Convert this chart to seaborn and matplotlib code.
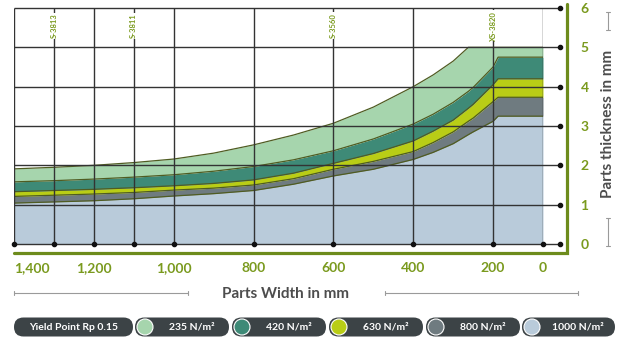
import numpy as np
import pandas as pd
import matplotlib
matplotlib.use("Agg")
import matplotlib.pyplot as plt
from matplotlib.patches import FancyBboxPatch, Circle
import seaborn as sns

# --- data ---
width_mm = [1400, 1300, 1200, 1100, 1000, 900, 800, 700, 600, 500, 400, 350, 300, 262, 250, 200, 180, 0]
t_235 = [1.91, 1.95, 2.00, 2.07, 2.16, 2.31, 2.52, 2.77, 3.07, 3.48, 4.00, 4.30, 4.65, 5.00, 5.00, 5.00, 5.00, 5.00]
t_420 = [1.58, 1.61, 1.65, 1.70, 1.76, 1.85, 1.97, 2.14, 2.37, 2.67, 3.05, 3.30, 3.60, 3.88, 3.98, 4.50, 4.75, 4.75]
t_630 = [1.33, 1.36, 1.39, 1.43, 1.48, 1.54, 1.63, 1.80, 2.05, 2.30, 2.62, 2.87, 3.15, 3.45, 3.55, 4.05, 4.20, 4.20]
t_800 = [1.21, 1.24, 1.27, 1.31, 1.37, 1.42, 1.50, 1.66, 1.90, 2.10, 2.35, 2.58, 2.85, 3.12, 3.20, 3.62, 3.73, 3.73]
t_1000 = [1.04, 1.07, 1.10, 1.15, 1.22, 1.28, 1.36, 1.52, 1.73, 1.90, 2.15, 2.33, 2.55, 2.78, 2.85, 3.12, 3.25, 3.25]

series_names = ["235 N/m²", "420 N/m²", "630 N/m²", "800 N/m²", "1000 N/m²"]
series_colors = ["#a6d5ad", "#3e8a77", "#b9cd16", "#6f7b80", "#b9cbda"]

x_ticks = [1400, 1200, 1000, 800, 600, 400, 200, 0]
x_tick_labels = ["1,400", "1,200", "1,000", "800", "600", "400", "200", "0"]
grid_x = [1400, 1300, 1200, 1100, 1000, 800, 600, 400, 200, 0]
y_ticks = [0, 1, 2, 3, 4, 5, 6]
machine_x = [1300, 1100, 600, 200]
machine_labels = ["S-3813", "S-3811", "S-3560", "XS-3820"]

OLIVE = "#7a9a1e"
EDGE = "#4f5c22"
GRID = "#333333"
LABEL_GREY = "#4d4d4d"
PILL = "#3c4346"

# the width axis is squeezed between 0 and 200 mm in the original
MM_KNOTS = [-400, 0, 200, 1400, 1800]
U_KNOTS = [-100, 0, 50, 530, 690]


def fwd(x):
    return np.interp(x, MM_KNOTS, U_KNOTS)


def inv(u):
    return np.interp(u, U_KNOTS, MM_KNOTS)


sns.set_style("white")
plt.rcParams["font.family"] = ["Lato", "DejaVu Sans"]

fig = plt.figure(figsize=(6.17, 3.44), dpi=100)
ax = fig.add_axes([14 / 617, 100 / 344, 529 / 617, 236 / 344])
ax.set_xscale("function", functions=(fwd, inv))

# stacked bands, bottom one first
curves = [t_1000, t_800, t_630, t_420, t_235]
colors = series_colors[::-1]
lower = [0] * len(width_mm)
for top, col in zip(curves, colors):
    ax.fill_between(width_mm, lower, top, color=col, lw=0, zorder=1)
    lower = top

df = pd.DataFrame({
    "width": width_mm * 5,
    "thickness": t_235 + t_420 + t_630 + t_800 + t_1000,
    "series": np.repeat(series_names, len(width_mm)),
})
sns.lineplot(data=df, x="width", y="thickness", hue="series",
             palette={n: EDGE for n in series_names}, estimator=None,
             lw=0.9, legend=False, ax=ax, zorder=2)

# grid with end dots
x_end = -68
ax.hlines(y_ticks, 1400, x_end, color=GRID, lw=1.0, clip_on=False, zorder=3)
ax.plot([x_end] * len(y_ticks), y_ticks, "o", color="#111111", ms=3, clip_on=False, zorder=4)
ax.vlines(grid_x, 0, 6, color=GRID, lw=1.0, zorder=3)
ax.plot(grid_x, [0] * len(grid_x), "o", color="#111111", ms=3, clip_on=False, zorder=4)

for mx, ml in zip(machine_x, machine_labels):
    ax.text(mx, 5.55, ml, rotation=90, fontsize=5.5, fontweight="bold", color=OLIVE,
            ha="center", va="center", zorder=5,
            bbox=dict(boxstyle="square,pad=0.1", fc="white", ec="none"))

ax.set_xlim(1400, 0)
ax.set_ylim(0, 6)
ax.set_xlabel("")
ax.set_ylabel("")
ax.set_xticks(x_ticks, x_tick_labels)
ax.set_yticks(y_ticks, [str(v) for v in y_ticks])
ax.yaxis.tick_right()
ax.tick_params(axis="x", length=0, pad=13, labelsize=10, labelcolor=OLIVE)
ax.tick_params(axis="y", length=0, pad=27, labelsize=10, labelcolor=OLIVE)
for lab in ax.get_xticklabels() + ax.get_yticklabels():
    lab.set_fontweight("bold")
ax.get_xticklabels()[0].set_horizontalalignment("left")
for s in ax.spines.values():
    s.set_visible(False)
ax.patch.set_visible(False)

# overlay in pixel units for frame, axis titles and legend
ov = fig.add_axes([0, 0, 1, 1])
ov.set_xlim(0, 617)
ov.set_ylim(344, 0)
ov.axis("off")
ov.patch.set_visible(False)

ov.plot([14, 567, 567], [253, 253, 4], color="#6d8b1c", lw=2.3, solid_joinstyle="miter")

ov.text(608, 124, "Parts thickness in mm", rotation=90, ha="center", va="center",
        fontsize=11, fontweight="bold", color=LABEL_GREY)
for y0, y1 in [(12, 30), (218, 246)]:
    ov.plot([608, 608], [y0, y1], color="#9a9a9a", lw=0.8)
    ov.plot([606, 610], [y0, y0], color="#9a9a9a", lw=0.8)
    ov.plot([606, 610], [y1, y1], color="#9a9a9a", lw=0.8)

ov.text(285, 294, "Parts Width in mm", ha="center", va="center",
        fontsize=11, fontweight="bold", color=LABEL_GREY)
for x0, x1 in [(14, 188), (385, 578)]:
    ov.plot([x0, x1], [293, 293], color="#9a9a9a", lw=0.8)
    ov.plot([x0, x0], [291, 295], color="#9a9a9a", lw=0.8)
    ov.plot([x1, x1], [291, 295], color="#9a9a9a", lw=0.8)

# legend pills
pill_h = 19
pill_y = 327
pill_spans = [(14, 133), (135, 229), (232, 326), (329, 423), (426, 520), (522, 615)]
legend_texts = ["Yield Point Rp 0.15"] + series_names
for i, ((x0, x1), txt) in enumerate(zip(pill_spans, legend_texts)):
    ov.add_patch(FancyBboxPatch((x0, pill_y - pill_h / 2), x1 - x0, pill_h,
                                boxstyle=f"round,pad=0,rounding_size={pill_h / 2}",
                                fc=PILL, ec="none"))
    if i == 0:
        ov.text((x0 + x1) / 2, pill_y, txt, ha="center", va="center",
                fontsize=7.5, fontweight="bold", color="white")
    else:
        ov.add_patch(Circle((x0 + 10, pill_y), 8, fc=series_colors[i - 1], ec="white", lw=0.8))
        ov.text((x0 + 19 + x1) / 2, pill_y, txt, ha="center", va="center",
                fontsize=7.5, fontweight="bold", color="white")

fig.savefig("out.png", dpi=100)
